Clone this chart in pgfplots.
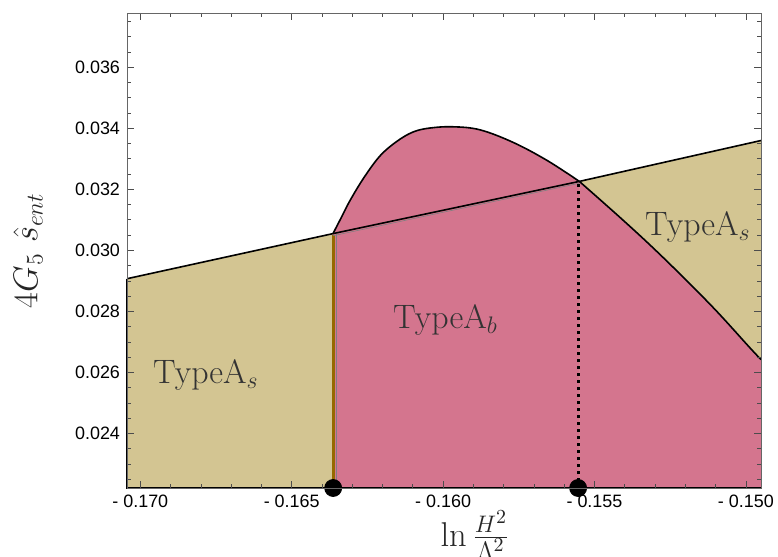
\documentclass[border=0pt]{standalone}
\usepackage{pgfplots}
\pgfplotsset{compat=1.18}
\usepgfplotslibrary{fillbetween}
\usepackage{fontspec}
\newfontfamily\tickfont{Liberation Sans}
\definecolor{tanA}{RGB}{211,197,146}
\definecolor{pinkB}{RGB}{212,117,142}
\definecolor{brownS}{RGB}{150,105,0}
\begin{document}
\begin{tikzpicture}
\begin{axis}[name=ax, width=317bp, height=237.5bp, scale only axis,
  xmin=-0.17044, xmax=-0.1495, ymin=0.02221, ymax=0.03778,
  clip=false, axis on top,
  axis line style={draw=gray!80!black, line width=0.4bp},
  tick align=inside, major tick length=3.5bp, minor tick length=2bp,
  every tick/.style={black!70, line width=0.35bp},
  xtick={-0.170,-0.165,-0.160,-0.155,-0.150},
  xticklabels={- 0.170,- 0.165,- 0.160,- 0.155,- 0.150},
  minor xtick={-0.169,-0.168,-0.167,-0.166,-0.164,-0.163,-0.162,-0.161,-0.159,-0.158,-0.157,-0.156,-0.154,-0.153,-0.152,-0.151},
  ytick={0.024,0.026,0.028,0.030,0.032,0.034,0.036},
  yticklabels={0.024,0.026,0.028,0.030,0.032,0.034,0.036},
  minor ytick={0.0225,0.023,0.0235,0.0245,0.025,0.0255,0.0265,0.027,0.0275,0.0285,0.029,0.0295,0.0305,0.031,0.0315,0.0325,0.033,0.0335,0.0345,0.035,0.0355,0.0365,0.037,0.0375},
  ticklabel style={font=\tickfont\fontsize{9}{10}\selectfont, text=black},
  xlabel={$\ln\frac{H^2}{\Lambda^2}$}, ylabel={$4G_5\ \hat{s}_{ent}$},
  label style={font=\fontsize{17.28}{19}\selectfont, text=black!85},
  xlabel style={at={(axis description cs:0.5489,-0.0985)}, anchor=center},
  ylabel style={at={(axis description cs:-0.1562,0.5)}, anchor=center},
]
% boundary paths
\addplot[name path=linep, draw=none] coordinates {(-0.17044,0.02907) (-0.16363,0.03055) (-0.1555,0.03226) (-0.1495,0.0336)};
\addplot[name path=botAll, draw=none] coordinates {(-0.17044,0.02221) (-0.1495,0.02221)};
\addplot[name path=arch, draw=none, smooth, tension=0.6] coordinates {(-0.16363,0.03056) (-0.16335,0.03110) (-0.16307,0.03164) (-0.16261,0.03239) (-0.16208,0.03310) (-0.16153,0.03357) (-0.16099,0.03388) (-0.16043,0.03401) (-0.15967,0.03405) (-0.15878,0.03395) (-0.15769,0.03354) (-0.15657,0.03295) (-0.15550,0.03226)};
\addplot[name path=desc, draw=none, smooth, tension=0.6] coordinates {(-0.15550,0.03226) (-0.15427,0.03118) (-0.15317,0.03018) (-0.15207,0.02912) (-0.15097,0.02801) (-0.14987,0.02681) (-0.1495,0.02642)};
\addplot[name path=botA, draw=none] coordinates {(-0.16363,0.02221) (-0.15550,0.02221)};
\addplot[name path=botB, draw=none] coordinates {(-0.15550,0.02221) (-0.1495,0.02221)};
% TypeA_s region (below line)
\addplot[tanA] fill between[of=linep and botAll];
% TypeA_b region
\addplot[pinkB] fill between[of=arch and botA];
\addplot[pinkB] fill between[of=desc and botB];
% brown strip
\addplot[brownS, line width=1.5bp] coordinates {(-0.16363,0.02221) (-0.16363,0.03050)};
\addplot[gray, line width=0.4bp] coordinates {(-0.16352,0.02221) (-0.16352,0.03052)};
% boundary line
\addplot[black, line width=0.8bp] coordinates {(-0.17044,0.02907) (-0.16363,0.03055) (-0.1555,0.03226) (-0.1495,0.0336)};
\addplot[gray, line width=0.3bp] coordinates {(-0.16363,0.03048) (-0.1555,0.03220)};
% arch and descending curve
\addplot[black, line width=0.8bp, smooth, tension=0.6] coordinates {(-0.16363,0.03056) (-0.16335,0.03110) (-0.16307,0.03164) (-0.16261,0.03239) (-0.16208,0.03310) (-0.16153,0.03357) (-0.16099,0.03388) (-0.16043,0.03401) (-0.15967,0.03405) (-0.15878,0.03395) (-0.15769,0.03354) (-0.15657,0.03295) (-0.15550,0.03226)};
\addplot[black, line width=0.8bp, smooth, tension=0.6] coordinates {(-0.15550,0.03226) (-0.15427,0.03118) (-0.15317,0.03018) (-0.15207,0.02912) (-0.15097,0.02801) (-0.14987,0.02681) (-0.1495,0.02642)};
% left edge and bottom
\addplot[black, line width=1bp] coordinates {(-0.17044,0.02907) (-0.17044,0.02221) (-0.1495,0.02221)};
% dotted line
\addplot[black, line width=1.5bp, dash pattern=on 1.5bp off 2bp] coordinates {(-0.15554,0.02221) (-0.15554,0.03226)};
% dots
\addplot[only marks, mark=*, mark size=4.25bp, black] coordinates {(-0.16363,0.02221) (-0.15554,0.02221)};
\node[anchor=base west, font=\fontsize{17}{19}\selectfont, text=black!80] at (axis cs:-0.16981,0.02564) {TypeA$_s$};
\node[anchor=base west, font=\fontsize{17}{19}\selectfont, text=black!80] at (axis cs:-0.16188,0.02744) {TypeA$_b$};
\node[anchor=base west, font=\fontsize{17}{19}\selectfont, text=black!80] at (axis cs:-0.15356,0.03049) {TypeA$_s$};
\end{axis}
\pgfresetboundingbox
\path ([shift={(-63.5bp,-34.5bp)}]ax.south west) rectangle ([shift={(8.5bp,6.5bp)}]ax.north east);
\end{tikzpicture}
\end{document}
